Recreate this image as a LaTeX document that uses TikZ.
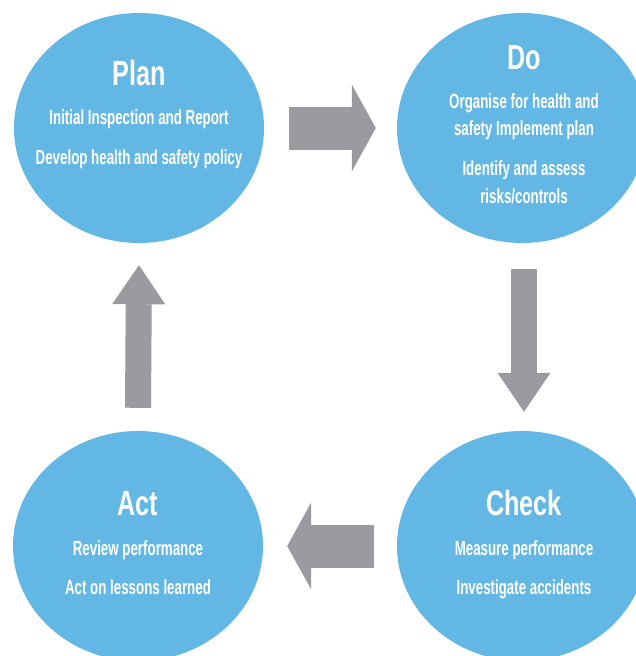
\documentclass[tikz,border=0pt]{standalone}
\usepackage{fontspec}
\newfontfamily\pdcabody{Liberation Sans}[FakeStretch=0.65]
\newfontfamily\pdcatitle{Liberation Sans}[FakeStretch=0.72]
\usetikzlibrary{arrows.meta,shapes.geometric}
\definecolor{cycleblue}{RGB}{99,183,228}
\definecolor{cyclegray}{RGB}{154,155,160}

\tikzset{
  stage/.style={ellipse,fill=cycleblue,minimum width=250pt,minimum height=230pt,inner sep=0pt},
  stagetitle/.style={text=white,inner sep=0pt,anchor=base,font=\pdcatitle\bfseries\fontsize{35}{35}\selectfont},
  stagetext/.style={text=white,inner sep=0pt,anchor=north,align=center,font=\pdcabody\bfseries\fontsize{20.5}{28}\selectfont},
  hflow/.style={cyclegray,line width=43pt,-{Triangle[length=24pt,width=87pt,line width=0pt]}},
  vflow/.style={cyclegray,line width=26pt,-{Triangle[length=39pt,width=53pt,line width=0pt]}}
}

\begin{document}
\begin{tikzpicture}[x=1pt,y=-1pt]
    \useasboundingbox[fill=white] (0,0) rectangle (636,656);
    \clip (0,0) rectangle (636,656);
    \node (plan) [stage] at (139,128) {};
    \node (do) [stage] at (522,128) {};
    \node (check) [stage] at (522,546) {};
    \node (act) [stage] at (138,546) {};

    \node (plan title) [stagetitle] at (139,85) {Plan};
    \node (plan text) [stagetext] at (139,109.5) {Initial Inspection and Report\\[12pt]Develop health and safety policy};
    \node (do title) [stagetitle] at (524,69) {Do};
    \node (do text) [stagetext] at (524,93.5) {Organise for health and\\[-1pt]safety Implement plan\\[12pt]Identify and assess\\risks/controls};
    \node (check title) [stagetitle] at (524,515) {Check};
    \node (check text) [stagetext] at (524,540.5) {Measure performance\\[11pt]Investigate accidents};
    \node (act title) [stagetitle] at (138,515) {Act};
    \node (act text) [stagetext] at (138,540.5) {Review performance\\[11pt]Act on lessons learned};

    \draw[hflow] ([xshift=25pt]plan.east) -- ([xshift=-21pt]do.west);
    \draw[vflow] ([xshift=2pt,yshift=-26pt]do.south) -- ([xshift=2pt,yshift=19pt]check.north);
    \draw[hflow] ([xshift=-23pt]check.west) -- ([xshift=24pt]act.east);
    \draw[vflow] ([yshift=23pt]act.north) -- ([yshift=-22pt]plan.south);
\end{tikzpicture}
\end{document}
